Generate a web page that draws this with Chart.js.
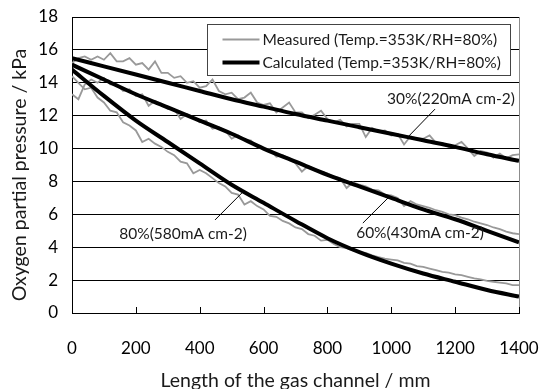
<!DOCTYPE html>
<html>
<head>
<meta charset="utf-8">
<script src="https://cdn.jsdelivr.net/npm/chart.js@4.4.0/dist/chart.umd.min.js"></script>
<style>
  html, body { margin: 0; padding: 0; background: #fff; }
  #wrap { width: 539px; height: 389px; }
</style>
</head>
<body>
<div id="wrap"><canvas id="chart" width="539" height="389"></canvas></div>
<script>
// Axis ticks
const xTicks = [0, 200, 400, 600, 800, 1000, 1200, 1400];
const yTicks = [0, 2, 4, 6, 8, 10, 12, 14, 16, 18];

// Calculated curves (read every 100 mm)
const calcX  = [0, 100, 200, 300, 400, 500, 600, 700, 800, 900, 1000, 1100, 1200, 1300, 1400];
const calc30 = [15.5, 15.0, 14.5, 14.0, 13.5, 13.0, 12.55, 12.1, 11.7, 11.3, 10.9, 10.5, 10.1, 9.65, 9.25];
const calc60 = [15.1, 14.2, 13.3, 12.5, 11.7, 10.9, 10.0, 9.2, 8.4, 7.7, 7.0, 6.3, 5.7, 5.0, 4.3];
const calc80 = [14.8, 13.2, 11.7, 10.4, 9.1, 7.8, 6.7, 5.6, 4.55, 3.7, 3.0, 2.4, 1.9, 1.4, 1.0];

// Measured curves (read every 20 mm)
const measX = [0, 20, 40, 60, 80, 100, 120, 140, 160, 180, 200, 220, 240, 260, 280, 300, 320, 340, 360, 380,
  400, 420, 440, 460, 480, 500, 520, 540, 560, 580, 600, 620, 640, 660, 680, 700, 720, 740, 760, 780,
  800, 820, 840, 860, 880, 900, 920, 940, 960, 980, 1000, 1020, 1040, 1060, 1080, 1100, 1120, 1140, 1160, 1180,
  1200, 1220, 1240, 1260, 1280, 1300, 1320, 1340, 1360, 1380, 1400];
const meas30 = [15.2, 15.5, 15.6, 15.4, 15.6, 15.4, 15.8, 15.3, 15.3, 15.5, 15.1, 15.2, 14.8, 15.3, 14.6, 14.6, 14.3, 14.4, 14.0, 14.1,
  13.7, 13.8, 14.2, 13.5, 13.3, 13.4, 13.0, 13.1, 13.4, 12.8, 12.65, 12.75, 12.2, 12.5, 12.8, 12.2, 12.2, 11.85, 12.05, 12.3,
  11.8, 11.6, 11.75, 11.35, 11.5, 11.5, 10.7, 11.25, 11.05, 11.1, 10.8, 10.9, 10.25, 10.75, 10.6, 10.6, 10.8, 10.35, 10.35, 10.1,
  10.2, 10.4, 10.0, 9.55, 9.85, 9.75, 9.45, 9.7, 9.4, 9.6, 9.65];
const meas60 = [13.3, 13.0, 13.9, 14.2, 14.0, 14.3, 13.9, 13.9, 13.5, 13.6, 13.2, 13.3, 12.6, 12.9, 12.7, 12.4, 12.4, 11.8, 12.1, 11.9,
  11.6, 11.7, 11.2, 11.3, 11.1, 10.6, 10.8, 10.5, 10.5, 10.1, 10.0, 9.95, 9.5, 9.6, 9.4, 9.1, 8.6, 8.95, 8.75, 8.6,
  8.5, 8.3, 8.2, 7.6, 7.95, 7.8, 7.7, 7.5, 7.45, 7.2, 7.15, 7.0, 6.5, 6.8, 6.6, 6.5, 6.4, 6.25, 6.15, 6.0,
  5.95, 5.8, 5.7, 5.55, 5.45, 5.35, 5.2, 5.1, 4.95, 4.85, 4.8];
const meas80 = [14.4, 14.0, 13.6, 13.7, 13.1, 12.8, 12.3, 12.2, 11.6, 11.4, 11.1, 10.4, 10.6, 10.3, 10.1, 9.8, 9.6, 9.2, 9.1, 8.5,
  8.7, 8.5, 8.2, 7.9, 7.7, 7.3, 7.2, 6.6, 6.8, 6.5, 6.3, 5.9, 5.85, 5.6, 5.45, 5.2, 5.1, 4.8, 4.7, 4.4,
  4.45, 4.2, 4.0, 3.95, 3.8, 3.7, 3.65, 3.5, 3.4, 3.3, 3.25, 3.2, 3.05, 3.0, 2.85, 2.8, 2.7, 2.6, 2.5, 2.45,
  2.35, 2.3, 2.2, 2.1, 2.05, 1.95, 1.9, 1.85, 1.8, 1.7, 1.7];

const seriesLabels = ['Measured (Temp.=353K/RH=80%)', 'Calculated (Temp.=353K/RH=80%)'];
const curveLabels = ['30%(220mA cm-2)', '60%(430mA cm-2)', '80%(580mA cm-2)'];
const xTitle = 'Length of the gas channel / mm';
const yTitle = 'Oxygen partial pressure / kPa';

// Label placement in data units: text centre, leader line start/end
const notes = [
  { text: curveLabels[0], tx: 1187, ty: 13.0, from: [1137, 12.4], to: [1052, 10.7] },
  { text: curveLabels[1], tx: 1090, ty: 4.87, from: [990, 7.0], to: [911, 5.47] },
  { text: curveLabels[2], tx: 348, ty: 4.8, from: [532, 7.3], to: [448, 5.66] }
];

const FONT = 'Lato, "Open Sans", sans-serif';

function pairs(xs, ys) {
  return xs.map((x, i) => ({ x: x, y: ys[i] }));
}

function measured(ys) {
  return {
    label: seriesLabels[0], data: pairs(measX, ys),
    borderColor: '#999999', borderWidth: 1.8, pointRadius: 0, tension: 0, order: 2
  };
}
function calculated(ys) {
  return {
    label: seriesLabels[1], data: pairs(calcX, ys),
    borderColor: '#000', borderWidth: 4, pointRadius: 0, cubicInterpolationMode: 'monotone', order: 1
  };
}

// drop the automatic label overflow so the plot box sits where the padding says
function noOverflow(s) {
  s.paddingTop = 0; s.paddingBottom = 0; s.paddingLeft = 0; s.paddingRight = 0;
}

const decor = {
  id: 'decor',
  afterDatasetsDraw(chart) {
    const { ctx, chartArea: a, scales: { x, y } } = chart;
    ctx.save();

    // right frame
    ctx.strokeStyle = '#8c8c8c';
    ctx.lineWidth = 1;
    ctx.beginPath();
    ctx.moveTo(Math.round(a.right) + 0.5, a.top);
    ctx.lineTo(Math.round(a.right) + 0.5, a.bottom);
    ctx.stroke();

    // inward x ticks
    ctx.strokeStyle = '#000';
    ctx.beginPath();
    xTicks.forEach(v => {
      if (v === 0) return;
      const px = Math.round(x.getPixelForValue(v)) + 0.5;
      ctx.moveTo(px, a.bottom);
      ctx.lineTo(px, a.bottom - 6);
    });
    ctx.stroke();

    // curve labels
    ctx.font = '15.5px ' + FONT;
    ctx.fillStyle = '#1a1a1a';
    ctx.textAlign = 'center';
    ctx.textBaseline = 'middle';
    notes.forEach(n => {
      ctx.beginPath();
      ctx.moveTo(x.getPixelForValue(n.from[0]), y.getPixelForValue(n.from[1]));
      ctx.lineTo(x.getPixelForValue(n.to[0]), y.getPixelForValue(n.to[1]));
      ctx.lineWidth = 1;
      ctx.strokeStyle = '#000';
      ctx.stroke();
      ctx.fillText(n.text, x.getPixelForValue(n.tx), y.getPixelForValue(n.ty));
    });

    // legend box
    const lx = Math.round(a.right) - 311.5, ly = Math.round(a.top) + 7.5, lw = 303, lh = 51;
    ctx.fillStyle = '#fff';
    ctx.fillRect(lx, ly, lw, lh);
    ctx.strokeStyle = '#444';
    ctx.lineWidth = 1;
    ctx.strokeRect(lx, ly, lw, lh);
    const m = chart.data.datasets[0], c = chart.data.datasets[3];
    [[m, ly + 15], [c, ly + 38]].forEach(([ds, yy]) => {
      ctx.beginPath();
      ctx.moveTo(lx + 15, yy);
      ctx.lineTo(lx + 52, yy);
      ctx.strokeStyle = ds.borderColor;
      ctx.lineWidth = ds.borderWidth;
      ctx.stroke();
      ctx.fillStyle = '#1a1a1a';
      ctx.textAlign = 'left';
      ctx.fillText(ds.label, lx + 55, yy);
    });

    // axis titles
    ctx.font = '19.5px ' + FONT;
    ctx.fillStyle = '#1a1a1a';
    ctx.textAlign = 'center';
    ctx.textBaseline = 'alphabetic';
    ctx.fillText(xTitle, (a.left + a.right) / 2, 387);
    ctx.translate(26, 175);
    ctx.rotate(-Math.PI / 2);
    ctx.fillText(yTitle, 0, 0);
    ctx.restore();
  }
};

new Chart(document.getElementById('chart'), {
  type: 'line',
  data: {
    datasets: [
      measured(meas30), measured(meas60), measured(meas80),
      calculated(calc30), calculated(calc60), calculated(calc80)
    ]
  },
  options: {
    responsive: false,
    devicePixelRatio: 1,
    animation: false,
    layout: { padding: { top: 17, right: 20, left: 0, bottom: 0 } },
    plugins: { legend: { display: false }, tooltip: { enabled: false } },
    scales: {
      x: {
        type: 'linear', min: 0, max: 1400,
        afterBuildTicks: s => { s.ticks = xTicks.map(v => ({ value: v })); },
        afterFit: s => { s.height = 76; noOverflow(s); },
        grid: { display: false },
        border: { color: '#000', width: 1 },
        ticks: { color: '#000', font: { family: FONT, size: 17 }, padding: 17, callback: v => String(v) }
      },
      y: {
        min: 0, max: 18,
        afterBuildTicks: s => { s.ticks = yTicks.map(v => ({ value: v })); },
        afterFit: s => { s.width = 72; noOverflow(s); },
        grid: { color: '#000', lineWidth: 1, drawTicks: false },
        border: { color: '#000', width: 1 },
        ticks: { color: '#000', font: { family: FONT, size: 17 }, padding: 14 }
      }
    }
  },
  plugins: [decor]
});
</script>
</body>
</html>
